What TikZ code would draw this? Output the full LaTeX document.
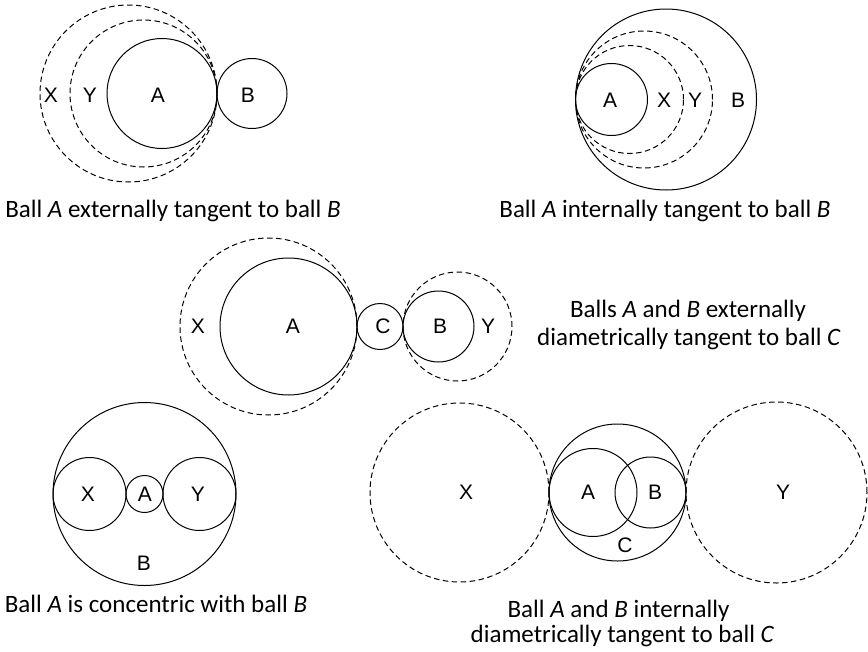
\documentclass[tikz,border=0pt]{standalone}
\usepackage{fontspec}
\setmainfont{Carlito}
\newfontfamily\labelfont{Liberation Sans}
\usetikzlibrary{positioning}
\tikzset{
  ball/.style={draw, line width=1pt},
  ghost/.style={ball, dash pattern=on 5.5pt off 3.5pt},
  lbl/.style={font=\labelfont\fontsize{21}{24}\selectfont, inner sep=0pt},
  capt/.style={font=\fontsize{25}{29}\selectfont, inner sep=0pt, anchor=base}
}

\begin{document}
\begin{tikzpicture}[x=1pt, y=-1pt]
  \useasboundingbox (0,0) rectangle (868,651);

  % externally tangent
  \coordinate (eA) at (162,93.5);
  \coordinate (eB) at (252,93.5);
  \coordinate (eX) at (128.5,93.5);
  \coordinate (eY) at (143.5,93.5);
  \draw[ghost] (eX) circle (88.5pt);
  \draw[ghost] (eY) circle (73.5pt);
  \draw[ball] (eA) circle (55pt);
  \draw[ball] (eB) circle (35pt);
  \node[lbl] (eXl) at (51,95) {X};
  \node[lbl] (eYl) at (90,95) {Y};
  \node[lbl] (eAl) at (158,95) {A};
  \node[lbl] (eBl) at (248,95) {B};
  \node[capt] (ecap) at (173,217) {Ball \textit{A} externally tangent to ball \textit{B}};

  % internally tangent
  \coordinate (iB) at (666,99.5);
  \coordinate (iA) at (611.5,99.5);
  \coordinate (iX) at (629.5,99.5);
  \coordinate (iY) at (644,99.5);
  \draw[ball] (iB) circle (90.5pt);
  \draw[ghost] (iY) circle (68.5pt);
  \draw[ghost] (iX) circle (54pt);
  \draw[ball] (iA) circle (36pt);
  \node[lbl] (iAl) at (610,100) {A};
  \node[lbl] (iXl) at (664,100) {X};
  \node[lbl] (iYl) at (695,100) {Y};
  \node[lbl] (iBl) at (738,100) {B};
  \node[capt] (icap) at (665,217) {Ball \textit{A} internally tangent to ball \textit{B}};

  % externally diametrically tangent
  \coordinate (dA) at (288.5,326.5);
  \coordinate (dX) at (268.5,326.5);
  \coordinate (dC) at (380,326.5);
  \coordinate (dB) at (438.5,326.5);
  \coordinate (dY) at (457.5,326.5);
  \draw[ghost] (dX) circle (88.5pt);
  \draw[ball] (dA) circle (68.5pt);
  \draw[ball] (dC) circle (23pt);
  \draw[ghost] (dY) circle (54.5pt);
  \draw[ball] (dB) circle (35.5pt);
  \node[lbl] (dXl) at (198,326) {X};
  \node[lbl] (dAl) at (293,326) {A};
  \node[lbl] (dCl) at (383,326) {C};
  \node[lbl] (dBl) at (440,326) {B};
  \node[lbl] (dYl) at (488,326) {Y};
  \node[capt] (dcap) at (688,317) {Balls \textit{A} and \textit{B} externally};
  \node[capt] (dcapb) at (689,345) {diametrically tangent to ball \textit{C}};

  % concentric
  \coordinate (cB) at (144.5,494);
  \coordinate (cX) at (89.5,494);
  \coordinate (cA) at (144.5,494);
  \coordinate (cY) at (199.5,494);
  \draw[ball] (cB) circle (91.5pt);
  \draw[ball] (cX) circle (36.5pt);
  \draw[ball] (cA) circle (18.5pt);
  \draw[ball] (cY) circle (36.5pt);
  \node[lbl] (cXl) at (88,494) {X};
  \node[lbl] (cAl) at (145,494) {A};
  \node[lbl] (cYl) at (198,494) {Y};
  \node[lbl] (cBl) at (144,563) {B};
  \node[capt] (ccap) at (156,612) {Ball \textit{A} is concentric with ball \textit{B}};

  % internally diametrically tangent
  \coordinate (nC) at (617.5,492.5);
  \coordinate (nX) at (459.5,492.5);
  \coordinate (nA) at (593,492.5);
  \coordinate (nB) at (650.5,492.5);
  \coordinate (nY) at (776.5,492.5);
  \draw[ghost] (nX) circle (89.5pt);
  \draw[ball] (nC) circle (68.5pt);
  \draw[ball] (nA) circle (44pt);
  \draw[ball] (nB) circle (35.5pt);
  \draw[ghost] (nY) circle (90.5pt);
  \node[lbl] (nXl) at (466,492) {X};
  \node[lbl] (nAl) at (588,492) {A};
  \node[lbl] (nBl) at (655,492) {B};
  \node[lbl] (nYl) at (783,492) {Y};
  \node[lbl] (nCl) at (625,545) {C};
  \node[capt] (ncap) at (618.5,617) {Ball \textit{A} and \textit{B} internally};
  \node[capt] (ncapb) at (622.5,642) {diametrically tangent to ball \textit{C}};
\end{tikzpicture}
\end{document}
